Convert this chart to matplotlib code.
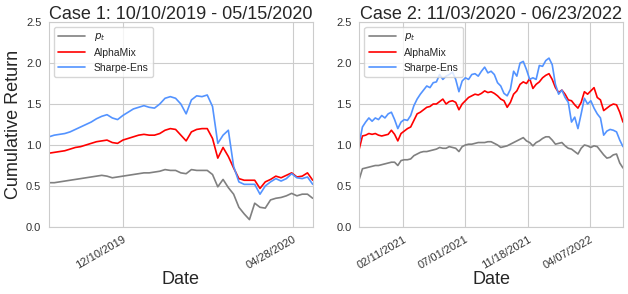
import numpy as np
import matplotlib
matplotlib.use('Agg')
import matplotlib.pyplot as plt
import seaborn as sns

# case 1: one value every 3 trading days (10/10/2019 - 05/15/2020)
case1_step = 3
case1_pt = [0.54, 0.54, 0.55, 0.56, 0.57, 0.58, 0.59, 0.60, 0.61, 0.62,
            0.63, 0.62, 0.60, 0.61, 0.62, 0.63, 0.64, 0.65, 0.66, 0.66,
            0.67, 0.68, 0.70, 0.69, 0.69, 0.66, 0.65, 0.70, 0.69, 0.69,
            0.69, 0.64, 0.49, 0.58, 0.48, 0.40, 0.24, 0.16, 0.09, 0.29,
            0.24, 0.23, 0.33, 0.35, 0.36, 0.38, 0.41, 0.38, 0.40, 0.40, 0.35]
case1_alphamix = [0.90, 0.91, 0.92, 0.93, 0.95, 0.97, 0.98, 1.00, 1.02, 1.04,
                  1.05, 1.06, 1.03, 1.02, 1.06, 1.08, 1.10, 1.12, 1.13, 1.12,
                  1.12, 1.14, 1.18, 1.20, 1.19, 1.12, 1.05, 1.16, 1.19, 1.20,
                  1.20, 1.08, 0.84, 0.97, 0.86, 0.72, 0.59, 0.57, 0.57, 0.57,
                  0.47, 0.55, 0.58, 0.62, 0.60, 0.63, 0.66, 0.61, 0.62, 0.66, 0.57]
case1_sharpe = [1.10, 1.12, 1.13, 1.14, 1.16, 1.19, 1.22, 1.25, 1.28, 1.32,
                1.35, 1.37, 1.33, 1.31, 1.36, 1.40, 1.44, 1.46, 1.48, 1.46,
                1.45, 1.50, 1.57, 1.59, 1.57, 1.50, 1.38, 1.55, 1.60, 1.59,
                1.61, 1.47, 1.02, 1.12, 1.18, 0.74, 0.55, 0.52, 0.52, 0.52,
                0.40, 0.50, 0.55, 0.59, 0.56, 0.59, 0.65, 0.60, 0.59, 0.61, 0.52]
case1_ticks = [42, 139]
case1_ticklabels = ['12/10/2019', '04/28/2020']

# case 2: one value every 5 trading days (11/03/2020 - 06/23/2022)
case2_step = 5
case2_pt = [0.58, 0.71, 0.72, 0.73, 0.74, 0.75, 0.75, 0.76, 0.77, 0.78,
            0.79, 0.79, 0.75, 0.81, 0.82, 0.82, 0.83, 0.87, 0.89, 0.91,
            0.92, 0.92, 0.93, 0.94, 0.95, 0.97, 0.96, 0.96, 0.98, 0.97,
            0.96, 0.92, 0.98, 1.00, 1.01, 1.01, 1.02, 1.03, 1.03, 1.03,
            1.04, 1.04, 1.02, 1.00, 0.97, 0.98, 0.99, 1.01, 1.03, 1.05,
            1.07, 1.09, 1.05, 1.03, 0.99, 1.03, 1.05, 1.08, 1.10, 1.10,
            1.06, 1.01, 1.02, 1.03, 0.99, 0.96, 0.95, 0.92, 0.89, 0.96,
            1.00, 0.99, 0.97, 0.99, 0.98, 0.93, 0.88, 0.84, 0.85, 0.88,
            0.89, 0.78, 0.72]
case2_alphamix = [0.95, 1.11, 1.12, 1.14, 1.13, 1.14, 1.12, 1.11, 1.12, 1.13,
                  1.18, 1.13, 1.05, 1.14, 1.17, 1.20, 1.22, 1.30, 1.38, 1.40,
                  1.43, 1.46, 1.47, 1.50, 1.50, 1.53, 1.56, 1.50, 1.53, 1.54,
                  1.52, 1.43, 1.50, 1.54, 1.58, 1.60, 1.62, 1.61, 1.63, 1.66,
                  1.64, 1.65, 1.63, 1.60, 1.56, 1.54, 1.46, 1.52, 1.62, 1.66,
                  1.74, 1.77, 1.75, 1.81, 1.69, 1.74, 1.77, 1.82, 1.85, 1.87,
                  1.80, 1.70, 1.64, 1.67, 1.62, 1.55, 1.54, 1.49, 1.45, 1.52,
                  1.65, 1.62, 1.66, 1.70, 1.58, 1.55, 1.42, 1.45, 1.48, 1.50,
                  1.49, 1.40, 1.28]
case2_sharpe = [1.02, 1.22, 1.28, 1.33, 1.29, 1.33, 1.31, 1.36, 1.33, 1.38,
                1.40, 1.31, 1.20, 1.28, 1.31, 1.30, 1.36, 1.48, 1.56, 1.62,
                1.67, 1.72, 1.70, 1.76, 1.77, 1.86, 1.80, 1.84, 1.86, 1.89,
                1.80, 1.65, 1.78, 1.82, 1.80, 1.86, 1.87, 1.84, 1.90, 1.95,
                1.88, 1.90, 1.86, 1.76, 1.72, 1.63, 1.60, 1.68, 1.90, 1.84,
                2.00, 2.02, 1.92, 1.80, 1.82, 1.80, 1.97, 1.96, 2.03, 2.06,
                1.98, 1.74, 1.62, 1.67, 1.58, 1.52, 1.28, 1.34, 1.20, 1.38,
                1.57, 1.50, 1.54, 1.45, 1.38, 1.33, 1.12, 1.17, 1.19, 1.18,
                1.16, 1.06, 0.98]
case2_ticks = [68, 165, 262, 359]
case2_ticklabels = ['02/11/2021', '07/01/2021', '11/18/2021', '04/07/2022']

sns.set_style('whitegrid')
plt.rcParams['font.family'] = ['Liberation Sans', 'DejaVu Sans']

fig = plt.figure(figsize=(6.28, 2.94), dpi=100)
ax1 = fig.add_axes([0.078, 0.228, 0.420, 0.697])
ax2 = fig.add_axes([0.572, 0.228, 0.420, 0.697])

cases = [
    (ax1, case1_step, case1_pt, case1_alphamix, case1_sharpe, case1_ticks, case1_ticklabels,
     'Case 1: 10/10/2019 - 05/15/2020'),
    (ax2, case2_step, case2_pt, case2_alphamix, case2_sharpe, case2_ticks, case2_ticklabels,
     'Case 2: 11/03/2020 - 06/23/2022'),
]

for ax, step, pt, am, sh, ticks, ticklabels, title in cases:
    days = np.arange(len(pt)) * step
    ax.plot(days, pt, color='gray', lw=1.2, label='$p_t$')
    ax.plot(days, am, color='red', lw=1.2, label='AlphaMix')
    ax.plot(days, sh, color='#5393ff', lw=1.2, label='Sharpe-Ens')
    ax.set_xlim(0, days[-1])
    ax.set_ylim(0, 2.5)
    ax.set_yticks([0, 0.5, 1.0, 1.5, 2.0, 2.5])
    ax.set_xticks(ticks)
    ax.set_xticklabels(ticklabels, rotation=30, ha='right', rotation_mode='anchor')
    ax.tick_params(axis='both', labelsize=8, pad=2, colors='#333333')
    ax.set_title(title, fontsize=13, pad=2)
    ax.set_xlabel('Date', fontsize=13, labelpad=0)
    ax.legend(loc='upper left', fontsize=7.5, frameon=True, handlelength=2.6,
              borderpad=0.4, labelspacing=0.45)

ax1.set_ylabel('Cumulative Return', fontsize=13, labelpad=3)

fig.savefig('out.png', dpi=100)
